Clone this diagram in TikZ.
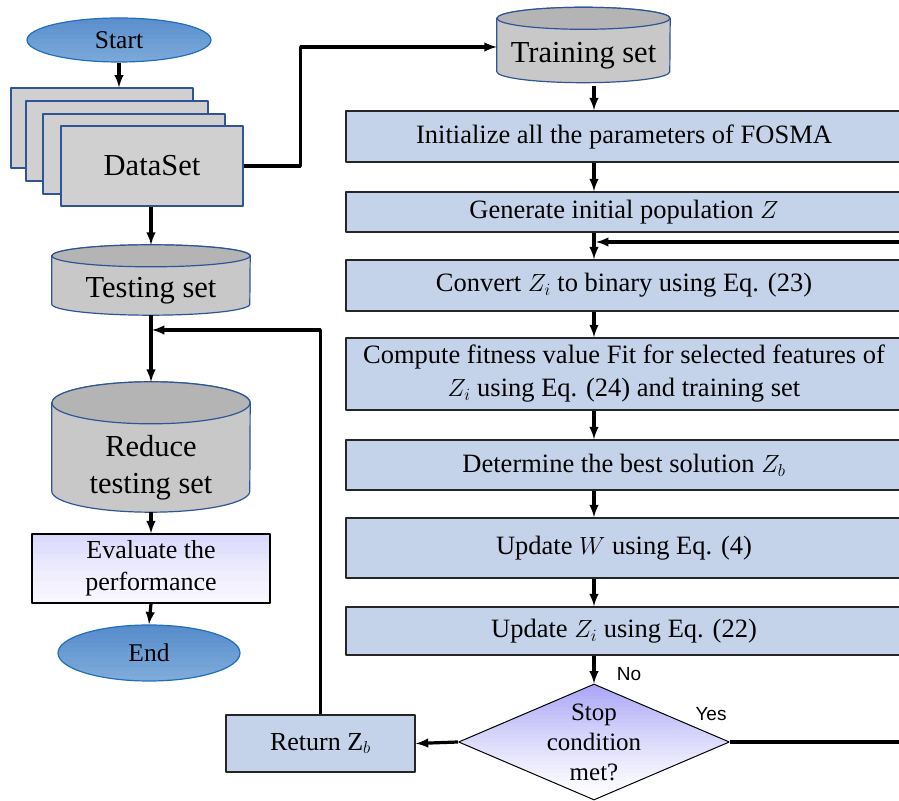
\documentclass[tikz,border=0pt]{standalone}
\usepackage{fontspec}
\setmainfont{Liberation Serif}
\newfontfamily\yesnofont{Liberation Sans}
\usetikzlibrary{shapes.geometric,backgrounds}

\definecolor{stepblue}{HTML}{C5D3EA}
\definecolor{pagegray}{HTML}{D0D0D0}
\definecolor{pageedge}{HTML}{2F5597}
\definecolor{dbgray}{HTML}{C8C8C8}
\definecolor{dbtopgray}{HTML}{B4B4B4}
\definecolor{termdark}{HTML}{3A76BF}
\definecolor{termlight}{HTML}{A9CCEC}
\definecolor{termedge}{HTML}{1F6FBF}
\definecolor{lav}{HTML}{A7A4F6}
\colorlet{lavglow}{lav!95!white}

% cylinder round a text node: name, x radius, y radius
\newcommand{\dbshape}[3]{%
  \begin{scope}[on background layer]
    \path[draw=pageedge,line width=1.2bp,fill=dbgray]
      ([yshift=#3]#1.north west) -- ([yshift=#3]#1.south west)
      arc[start angle=180,end angle=360,x radius=#2,y radius=#3]
      -- ([yshift=#3]#1.north east)
      arc[start angle=0,end angle=180,x radius=#2,y radius=#3] -- cycle;
    \path[draw=pageedge,line width=1.2bp,fill=dbtopgray]
      ([yshift=#3]#1.north) ellipse[x radius=#2,y radius=#3];
  \end{scope}
  \coordinate (#1-top) at ([yshift=2*#3]#1.north);
}

% colour bands inside a path picture: angle, half range, count, top colour, bottom colour, power
\newcommand{\bands}[6]{%
  \begin{scope}[shift={(path picture bounding box.center)},rotate=#1]
    \foreach \i in {1,...,#3}{%
      \pgfmathsetmacro\pct{100*((\i-0.5)/#3)^#6}
      \fill[#4!\pct!#5] (-200bp,{-#2+(\i-1)*2*#2/#3}) rectangle (200bp,{-#2+\i*2*#2/#3+0.6bp});
    }
  \end{scope}}

\begin{document}
\begin{tikzpicture}[>=latex,line join=bevel,
  proc/.style={draw=black!85,line width=1.6bp,fill=stepblue,rectangle,
    inner sep=2bp,minimum width=556bp,align=center,
    font=\fontsize{26.5bp}{33bp}\selectfont},
  page/.style={draw=pageedge,line width=1.2bp,fill=pagegray,rectangle,
    minimum width=182bp,minimum height=80bp,
    font=\fontsize{30.5bp}{37bp}\selectfont},
  db/.style={rectangle,inner sep=0pt,align=center,
    font=\fontsize{30.5bp}{37bp}\selectfont},
  term/.style={ellipse,draw=termedge,line width=1.2bp,inner sep=0pt,fill=termlight,
    path picture={\bands{45}{72bp}{30}{termdark}{termlight}{1}},
    font=\fontsize{25.5bp}{30bp}\selectfont},
  flow/.style={->,line width=3.2bp},
  link/.style={line width=3.2bp},
  yesno/.style={font=\yesnofont\fontsize{19bp}{22bp}\selectfont},
  ]
\useasboundingbox (0,0) rectangle (899bp,801bp);
%%
\node (start) at (119bp,761bp) [term,minimum width=184bp,minimum height=44bp] {Start};
\foreach \k/\px/\py in {1/102/673, 2/117/660, 3/134/647}
  \node (ds\k) at (\px bp,\py bp) [page] {};
\node (ds) at (152bp,635bp) [page] {DataSet};
\node (train) at (583.5bp,745bp) [db,minimum width=173bp,minimum height=53bp] {Training set};
\dbshape{train}{86.5bp}{11bp}
\node (test) at (151bp,510bp) [db,minimum width=198bp,minimum height=48bp] {Testing set};
\dbshape{test}{99bp}{11bp}
\node (red) at (151bp,333bp) [db,minimum width=198bp,minimum height=88bp] {Reduce\\testing set};
\dbshape{red}{99bp}{21bp}
\node (eval) at (151bp,232.5bp) [draw=black,fill=white,line width=1.4bp,rectangle,align=center,
  minimum width=238bp,minimum height=69bp,inner sep=0pt,
  path picture={\bands{-40}{100bp}{35}{lavglow}{white}{3}},
  font=\fontsize{26bp}{32bp}\selectfont] {Evaluate the\\performance};
\node (end) at (149bp,148bp) [term,minimum width=182bp,minimum height=56bp] {End};
%
\node (init) at (624bp,664.5bp) [proc,minimum height=51bp] {Initialize all the parameters of FOSMA};
\node (gen) at (624bp,589bp) [proc,minimum height=40bp] {Generate initial population $Z$};
\node (conv) at (624bp,515.5bp) [proc,minimum height=51bp] {Convert $Z_i$ to binary using Eq. (23)};
\node (comp) at (624bp,427bp) [proc,minimum height=72bp] {Compute fitness value Fit for selected features of\\$Z_i$ using Eq. (24) and training set};
\node (best) at (624bp,336bp) [proc,minimum height=50bp] {Determine the best solution $Z_b$};
\node (updw) at (624bp,253bp) [proc,minimum height=60bp] {Update $W$ using Eq. (4)};
\node (updz) at (624bp,170bp) [proc,minimum height=48bp] {Update $Z_i$ using Eq. (22)};
\node (stop) at (594bp,59bp) [diamond,draw=black,fill=white,line width=1bp,aspect=2.34,inner sep=-6bp,
  minimum width=271bp,minimum height=116bp,align=center,
  path picture={\bands{0}{58bp}{30}{lav}{white}{1.3}},
  font=\fontsize{25bp}{30bp}\selectfont] {Stop\\condition\\met?};
\node (ret) at (320.5bp,57.5bp) [draw=black!85,line width=1.6bp,fill=stepblue,rectangle,
  minimum width=189bp,minimum height=57bp,
  font=\fontsize{26bp}{30bp}\selectfont] {Return Z$_b$};
\node (nolab) at (629bp,127bp) [yesno] {No};
\node (yeslab) at (711bp,87bp) [yesno] {Yes};
\coordinate (spine) at (594bp,0bp);
\coordinate (loopin) at (905bp,559bp);
\coordinate (yesout) at (905bp,59bp);
\coordinate (join) at (152bp,471bp);
%
\draw [flow] (start.south) -- (start.south |- ds1.north);
\draw [flow] (ds.east) -- ++(57bp,0) |- ([yshift=9bp]train.west);
\draw [flow] (ds.south -| test-top) -- (test-top);
\draw [flow] (test.south) -- (red-top);
\draw [flow] (red.south) -- (eval.north);
\draw [flow] (eval.south) -- (end.north);
\draw [flow,shorten <=3bp] (train.south -| spine) -- (init.north -| spine);
\draw [flow] (init.south -| spine) -- (gen.north -| spine);
\draw [flow] (gen.south -| spine) -- (conv.north -| spine);
\draw [flow,shorten >=2bp] (loopin) -- (loopin -| spine);
\draw [flow] (conv.south -| spine) -- (comp.north -| spine);
\draw [flow] (comp.south -| spine) -- (best.north -| spine);
\draw [flow] (best.south -| spine) -- (updw.north -| spine);
\draw [flow] (updw.south -| spine) -- (updz.north -| spine);
\draw [flow] (updz.south -| spine) -- (stop.north);
\draw [flow] (stop.west) -- (ret.east);
\draw [link] (stop.east) -- (yesout);
\draw [flow] (ret.north) |- (join);
%
\end{tikzpicture}
\end{document}
